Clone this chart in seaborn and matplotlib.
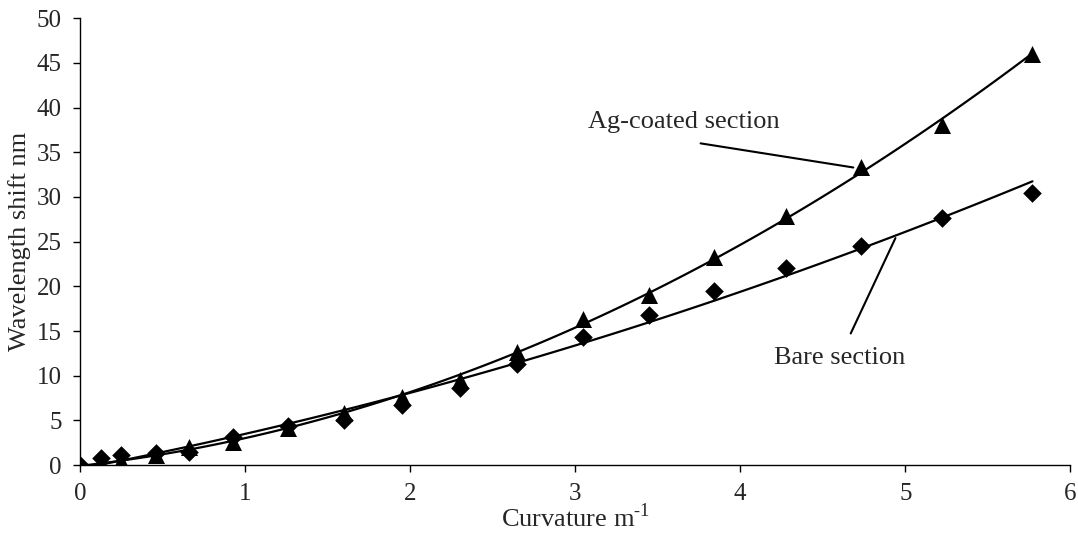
import numpy as np
import pandas as pd
import seaborn as sns
import matplotlib
matplotlib.use("Agg")
import matplotlib.pyplot as plt

curvature = [0.0, 0.13, 0.25, 0.46, 0.66, 0.93, 1.26, 1.60, 1.95, 2.30, 2.65, 3.05, 3.45, 3.84, 4.28, 4.73, 5.22, 5.77]
ag_coated = [0.0, 0.3, 0.4, 1.1, 2.0, 2.6, 4.1, 5.8, 7.6, 9.5, 12.6, 16.3, 19.0, 23.3, 27.9, 33.3, 38.1, 46.0]
bare = [0.0, 0.8, 1.1, 1.3, 1.5, 3.1, 4.4, 5.0, 6.7, 8.6, 11.3, 14.3, 16.8, 19.5, 22.1, 24.5, 27.7, 30.5]

xticks = [0, 1, 2, 3, 4, 5, 6]
yticks = [0, 5, 10, 15, 20, 25, 30, 35, 40, 45, 50]

df = pd.DataFrame({"curvature": curvature, "ag": ag_coated, "bare": bare})

sns.set_theme(style="ticks")
plt.rcParams["font.family"] = ["Liberation Serif", "DejaVu Serif"]
plt.rcParams["mathtext.fontset"] = "custom"
plt.rcParams["mathtext.rm"] = "Liberation Serif"

fig = plt.figure(figsize=(10.78, 5.37), dpi=100)
ax = fig.add_axes([0.074, 0.134, 0.919, 0.832])

sns.regplot(data=df, x="curvature", y="ag", order=2, ci=None, ax=ax,
            marker="^", scatter_kws=dict(s=150, color="black", linewidths=0, alpha=1, zorder=3),
            line_kws=dict(color="black", lw=1.6))
sns.regplot(data=df, x="curvature", y="bare", order=2, ci=None, ax=ax,
            marker="D", scatter_kws=dict(s=90, color="black", linewidths=0, alpha=1, zorder=3),
            line_kws=dict(color="black", lw=1.6))

ax.set_xlim(0, 6)
ax.set_ylim(0, 50)
ax.set_xticks(xticks)
ax.set_yticks(yticks)
ax.tick_params(labelsize=18, length=5, width=1, color="black")
ax.tick_params(axis="y", pad=8)
ax.tick_params(axis="x", pad=8)
ax.set_xlabel("Curvature m$^{\\text{-1}}$", fontsize=19)
ax.xaxis.set_label_coords(0.5, -0.086)
ax.set_ylabel("Wavelength shift nm", fontsize=19, labelpad=4)
sns.despine(ax=ax)
for s in ["left", "bottom"]:
    ax.spines[s].set_color("black")
    ax.spines[s].set_linewidth(1.0)

ax.text(3.08, 38.4, "Ag-coated section", fontsize=19, ha="left", va="center")
ax.annotate("", xy=(4.685, 33.3), xytext=(3.76, 36.0),
            arrowprops=dict(arrowstyle="-", color="black", lw=1.5,
                            shrinkA=0, shrinkB=0))
ax.annotate("Bare section", xy=(4.94, 25.4), xytext=(4.6, 12.0),
            fontsize=19, ha="center", va="center",
            arrowprops=dict(arrowstyle="-", color="black", lw=1.5,
                            shrinkA=8, shrinkB=0))

fig.savefig("out.png", dpi=100)
